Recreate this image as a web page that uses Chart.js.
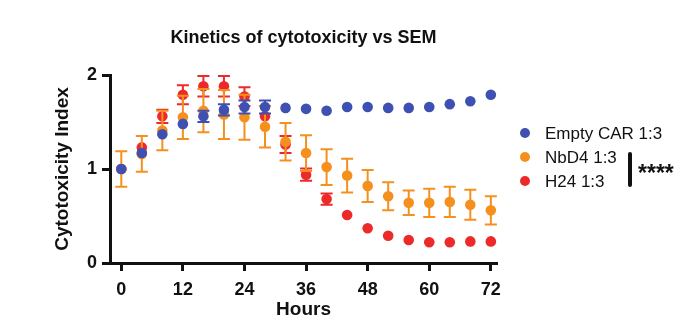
<!DOCTYPE html>
<html>
<head>
<meta charset="utf-8">
<title>Kinetics of cytotoxicity vs SEM</title>
<script src="https://cdn.jsdelivr.net/npm/chart.js@4/dist/chart.umd.min.js"></script>
<style>
  html, body { margin: 0; padding: 0; background: #fff; }
  canvas { display: block; }
</style>
</head>
<body>
<canvas id="kineticsChart" width="685" height="322"></canvas>
<script>
  // time points (hours)
  const hours = [0, 4, 8, 12, 16, 20, 24, 28, 32, 36, 40, 44, 48, 52, 56, 60, 64, 68, 72];
  const xTicks = [0, 12, 24, 36, 48, 60, 72];
  const yTicks = [0, 1, 2];

  // Empty CAR 1:3 (mean, SEM)
  const emptyCar = [1.00, 1.17, 1.37, 1.48, 1.56, 1.63, 1.66, 1.66, 1.65, 1.64, 1.62, 1.66, 1.66, 1.65, 1.65, 1.66, 1.69, 1.72, 1.79];
  const emptyCarSem = [0, 0, 0, 0, 0.06, 0.06, 0.07, 0.07, 0, 0, 0, 0, 0, 0, 0, 0, 0, 0, 0];

  // NbD4 1:3
  const nbd4 = [1.00, 1.16, 1.41, 1.55, 1.62, 1.58, 1.55, 1.45, 1.29, 1.17, 1.02, 0.93, 0.82, 0.71, 0.64, 0.64, 0.65, 0.62, 0.56];
  const nbd4Sem = [0.19, 0.19, 0.21, 0.23, 0.23, 0.26, 0.24, 0.22, 0.20, 0.19, 0.19, 0.18, 0.17, 0.15, 0.13, 0.15, 0.16, 0.16, 0.15];

  // H24 1:3
  const h24 = [1.00, 1.23, 1.56, 1.79, 1.88, 1.88, 1.77, 1.56, 1.26, 0.94, 0.68, 0.51, 0.37, 0.29, 0.245, 0.22, 0.22, 0.23, 0.23];
  const h24Sem = [0, 0, 0.07, 0.10, 0.11, 0.11, 0.10, 0, 0.09, 0.065, 0.06, 0, 0, 0, 0, 0, 0, 0, 0];

  const blue = '#3E51B2';
  const orange = '#F5901E';
  const red = '#EC2A2A';
  const fontFamily = '"Liberation Sans", Arial, Helvetica, sans-serif';

  function toPoints(values) {
    return hours.map((h, i) => ({ x: h, y: values[i] }));
  }

  // Draws SEM error bars under each dataset's points
  const errorBars = {
    id: 'errorBars',
    beforeDatasetDraw(chart, args) {
      const ds = chart.data.datasets[args.index];
      if (!ds.sem) return;
      const ctx = chart.ctx;
      const yScale = chart.scales.y;
      ctx.save();
      ctx.strokeStyle = ds.backgroundColor;
      ctx.lineWidth = 2;
      args.meta.data.forEach((pt, i) => {
        if (!ds.sem[i]) return;
        const v = ds.data[i].y;
        const top = yScale.getPixelForValue(v + ds.sem[i]);
        const bottom = yScale.getPixelForValue(v - ds.sem[i]);
        ctx.beginPath();
        ctx.moveTo(pt.x, top);
        ctx.lineTo(pt.x, bottom);
        ctx.moveTo(pt.x - 6, top);
        ctx.lineTo(pt.x + 6, top);
        ctx.moveTo(pt.x - 6, bottom);
        ctx.lineTo(pt.x + 6, bottom);
        ctx.stroke();
      });
      ctx.restore();
    }
  };

  // Legend on the right plus the significance mark
  const sideLegend = {
    id: 'sideLegend',
    afterDraw(chart) {
      const ctx = chart.ctx;
      ctx.save();
      chart.data.datasets.forEach((ds, i) => {
        const y = 133 + i * 24;
        ctx.fillStyle = ds.backgroundColor;
        ctx.beginPath();
        ctx.arc(525, y, 5, 0, Math.PI * 2);
        ctx.fill();
        ctx.fillStyle = '#111';
        ctx.font = '17px ' + fontFamily;
        ctx.textBaseline = 'middle';
        ctx.textAlign = 'left';
        ctx.fillText(ds.label, 545, y + 1);
      });
      ctx.strokeStyle = '#111';
      ctx.lineWidth = 4;
      ctx.lineCap = 'round';
      ctx.beginPath();
      ctx.moveTo(630, 154);
      ctx.lineTo(630, 185);
      ctx.stroke();
      ctx.fillStyle = '#111';
      ctx.font = 'bold 23px ' + fontFamily;
      ctx.textBaseline = 'alphabetic';
      ctx.fillText('****', 638, 181);
      ctx.restore();
    }
  };

  const ctx = document.getElementById('kineticsChart').getContext('2d');
  const kineticsChart = new Chart(ctx, {
    type: 'scatter',
    data: {
      datasets: [
        { label: 'Empty CAR 1:3', data: toPoints(emptyCar), sem: emptyCarSem, backgroundColor: blue },
        { label: 'NbD4 1:3', data: toPoints(nbd4), sem: nbd4Sem, backgroundColor: orange },
        { label: 'H24 1:3', data: toPoints(h24), sem: h24Sem, backgroundColor: red }
      ]
    },
    options: {
      responsive: false,
      animation: false,
      devicePixelRatio: 1,
      clip: false,
      elements: {
        point: { radius: 5.3, borderWidth: 0, hoverRadius: 5.3 }
      },
      layout: {
        padding: { left: 0, right: 188, top: 0, bottom: 0 }
      },
      plugins: {
        legend: { display: false },
        tooltip: { enabled: false },
        title: {
          display: true,
          fullSize: false,
          text: 'Kinetics of cytotoxicity vs SEM',
          color: '#111',
          font: { family: fontFamily, size: 18, weight: 'bold' },
          padding: { top: 27.2, bottom: 26.2 }
        }
      },
      scales: {
        x: {
          type: 'linear',
          min: -2.2,
          max: 73.2,
          afterBuildTicks: s => { s.ticks = xTicks.map(v => ({ value: v })); },
          afterFit: s => { s.height = 59; s.paddingLeft = 0; s.paddingRight = 0; },
          border: { display: true, color: '#111', width: 3 },
          grid: { drawOnChartArea: false, drawTicks: true, tickLength: 8, tickWidth: 3, tickColor: '#111' },
          ticks: {
            color: '#111',
            padding: 8,
            font: { family: fontFamily, size: 18, weight: 'bold' }
          },
          title: {
            display: true,
            text: 'Hours',
            color: '#111',
            font: { family: fontFamily, size: 19, weight: 'bold' },
            padding: { top: 0, bottom: 0.6 }
          }
        },
        y: {
          min: 0,
          max: 2,
          afterBuildTicks: s => { s.ticks = yTicks.map(v => ({ value: v })); },
          afterFit: s => { s.width = 110; s.paddingTop = 0; s.paddingBottom = 0; },
          border: { display: true, color: '#111', width: 3 },
          grid: { drawOnChartArea: false, drawTicks: true, tickLength: 8, tickWidth: 3, tickColor: '#111' },
          ticks: {
            color: '#111',
            padding: 5,
            font: { family: fontFamily, size: 18, weight: 'bold' }
          },
          title: {
            display: true,
            text: 'Cytotoxicity Index',
            color: '#111',
            font: { family: fontFamily, size: 19, weight: 'bold' },
            padding: { top: 51.6, bottom: 0 }
          }
        }
      }
    },
    plugins: [errorBars, sideLegend]
  });
</script>
</body>
</html>
